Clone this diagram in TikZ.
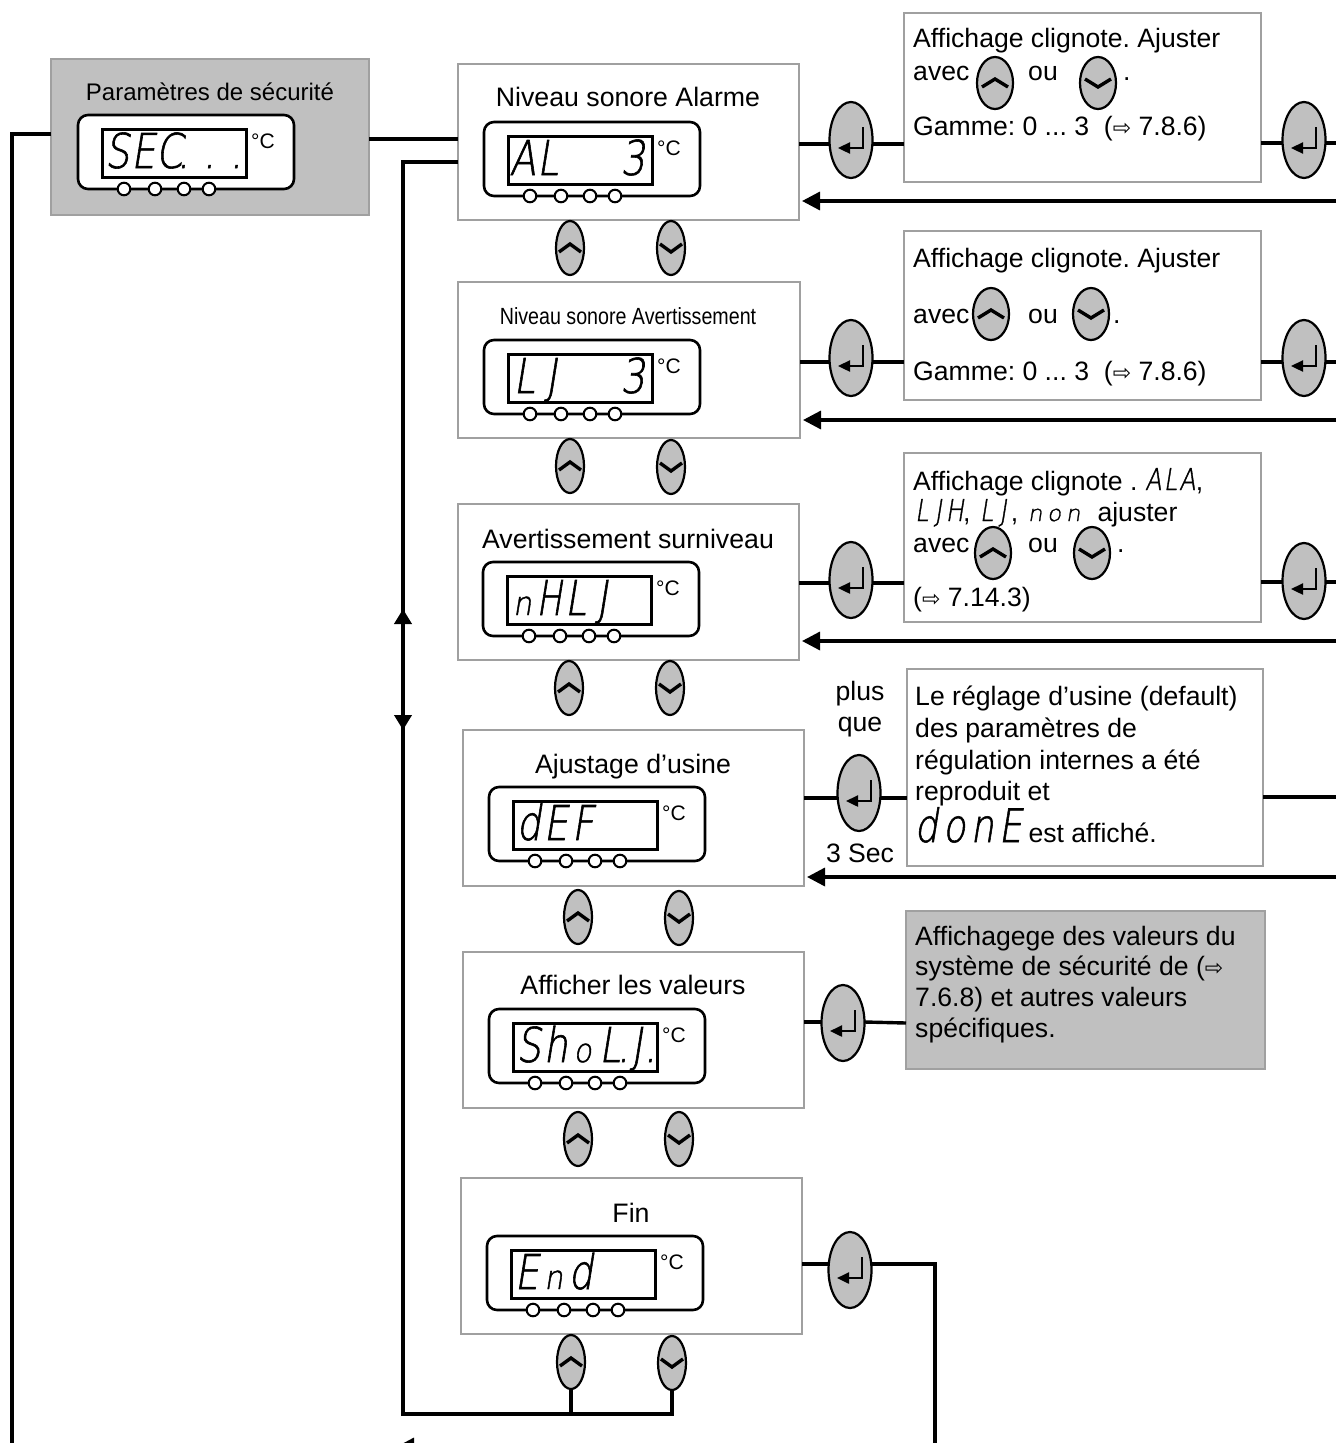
\documentclass[tikz,border=0pt]{standalone}
\usepackage{fontspec}
\usetikzlibrary{shapes.geometric,arrows.meta}
\setmainfont{Liberation Sans}
\newfontfamily\narrowf[FakeStretch=0.84]{Liberation Sans}
\newfontfamily\symf{DejaVu Sans}
\newfontfamily\segf[FakeSlant=0.16,FakeStretch=0.8,FakeBold=1.2]{DejaVu Sans ExtraLight}
\newfontfamily\segn[FakeSlant=0.16,FakeStretch=0.7,FakeBold=1.2]{DejaVu Sans ExtraLight}
\newfontfamily\segl[FakeSlant=0.16,FakeStretch=0.9,FakeBold=1.2]{DejaVu Sans ExtraLight}
\newfontfamily\segw[FakeSlant=0.16,FakeStretch=1.05,FakeBold=1.2]{DejaVu Sans ExtraLight}
\newcommand{\cellc}[2]{\makebox[#1pt][c]{#2}}
\newcommand{\lcd}[1]{{\fontsize{48}{48}\segf #1}}
\newcommand{\lowc}[1]{{\fontsize{33}{33}\segl #1}}
\newcommand{\hrw}{{\symf\fontsize{22}{22}\selectfont ⇨}}
\definecolor{btn}{HTML}{C0C0C0}
\definecolor{edge}{HTML}{A0A0A0}
\tikzset{
  panel/.style={draw=edge,line width=2.2pt,fill=white,minimum width=#1,inner sep=0pt,outer sep=0pt},
  wire/.style={draw=black,line width=3.4pt},
  back/.style={wire,-{Triangle[length=18pt,width=18pt]}},
  enterbtn/.style={ellipse,draw=black,line width=2.2pt,fill=btn,minimum width=43pt,minimum height=76pt,inner sep=0pt,outer sep=0pt},
  arrowbtn/.style={ellipse,draw=black,line width=2.2pt,fill=btn,minimum width=28pt,minimum height=54pt,inner sep=0pt,outer sep=0pt},
  inlinebtn/.style={ellipse,draw=black,line width=2.2pt,fill=btn,minimum width=36pt,minimum height=52pt,inner sep=0pt,outer sep=0pt},
  label/.style={anchor=base,inner sep=0pt,font=\fontsize{26.7}{27}\selectfont},
  para/.style={anchor=base west,inner sep=0pt,font=\fontsize{26.6}{27}\selectfont},
  plain/.style={inner sep=0pt,font=\fontsize{26.6}{27}\selectfont},
  lcdtext/.style={anchor=base west,inner sep=0pt},
}
\newcommand{\disp}[4]{%
  \begin{scope}[shift={(#2,#3)}]
    \draw[black,line width=2.6pt,fill=white,rounded corners=10pt] (0,0) rectangle (216,74);
    \node[draw=black,line width=2.6pt,fill=white,minimum width=144pt,minimum height=48pt,anchor=north west,inner sep=0pt] (#1screen) at (23,13) {};
    \foreach \cx in {46,77,106,131}{\draw[black,line width=2pt,fill=white] (\cx,74) circle (6.3pt);}
    \node[inner sep=0pt,font=\fontsize{21}{21}\selectfont] (#1unit) at (185,26) {°C};
    \node[lcdtext,align=left] (#1lcd) at (26,53) {\lcd{#4}};
  \end{scope}}
\newcommand{\upc}[2][11]{\draw[black,line width=3.4pt] ([shift={(-#1,4)}]#2.center) -- ([shift={(0,-4)}]#2.center) -- ([shift={(#1,4)}]#2.center);}
\newcommand{\dnc}[2][11]{\draw[black,line width=3.4pt] ([shift={(-#1,-4)}]#2.center) -- ([shift={(0,4)}]#2.center) -- ([shift={(#1,-4)}]#2.center);}
\newcommand{\ent}[1]{\draw[black,line width=2.4pt,-{Triangle[length=12pt,width=11pt]}] ([shift={(12,-13)}]#1.center) -- ([shift={(12,8)}]#1.center) -- ([shift={(-13,8)}]#1.center);}
\begin{document}
\frenchspacing
\begin{tikzpicture}[x=1pt,y=-1pt]
\useasboundingbox (0,0) rectangle (1336,1443);
\clip (0,0) rectangle (1336,1443);
\fill[white] (0,0) rectangle (1336,1443);
% panels
\node[panel=318pt,fill=btn,minimum height=156pt,anchor=north west] (sec) at (51,59) {};
\node[panel=341pt,minimum height=156pt,anchor=north west] (al) at (458,64) {};
\node[panel=342pt,minimum height=156pt,anchor=north west] (lj) at (458,282) {};
\node[panel=341pt,minimum height=156pt,anchor=north west] (ov) at (458,504) {};
\node[panel=341pt,minimum height=156pt,anchor=north west] (def) at (463,730) {};
\node[panel=341pt,minimum height=156pt,anchor=north west] (show) at (463,952) {};
\node[panel=341pt,minimum height=156pt,anchor=north west] (fin) at (461,1178) {};
\node[panel=357pt,minimum height=169pt,anchor=north west] (t1) at (904,13) {};
\node[panel=357pt,minimum height=169pt,anchor=north west] (t2) at (904,231) {};
\node[panel=357pt,minimum height=169pt,anchor=north west] (t3) at (904,453) {};
\node[panel=356pt,minimum height=197pt,anchor=north west] (t4) at (907,669) {};
\node[panel=359pt,fill=btn,minimum height=158pt,anchor=north west] (t5) at (906,911) {};
% buttons
\foreach \n/\x/\y in {e1/851/140,r1/1304/140,e2/851/358,r2/1304/358,e3/851/580,r3/1304/581,e4/859/793,e5/843/1023,e6/850/1270}
  \node[enterbtn] (\n) at (\x,\y) {};
\foreach \n/\x/\y in {u1/570/248,u2/570/466,u3/569/688,u4/578/917,u5/578/1139,u6/571/1362}
  {\node[arrowbtn] (\n) at (\x,\y) {}; \upc{\n}}
\foreach \n/\x/\y in {d1/671/248,d2/671/467,d3/670/688,d4/679/918,d5/679/1139,d6/672/1363}
  {\node[arrowbtn] (\n) at (\x,\y) {}; \dnc{\n}}
\foreach \n in {e1,r1,e2,r2,e3,r3,e4,e5,e6}{\ent{\n}}
% free ends
\coordinate (mid) at (403,162);
\coordinate (bus) at (403,1414);
\coordinate (leftc) at (12,134);
\coordinate (leftb) at (12,1443);
\coordinate (rim1) at (1336,143);
\coordinate (rim2) at (1336,362);
\coordinate (rim3) at (1336,582);
\coordinate (rim4) at (1336,797);
\coordinate (ret1) at (1336,201);
\coordinate (ret2) at (1336,420);
\coordinate (ret3) at (1336,641);
\coordinate (ret4) at (1336,877);
\coordinate (finc) at (935,1264);
\coordinate (finb) at (935,1443);
\coordinate (upT) at (403,609);
\coordinate (dnT) at (403,730);
\coordinate (botT) at (396,1447);
\coordinate (botS) at (440,1447);
% wires
\draw[wire] (sec.west |- leftc) -- (leftc) -- (leftb);
\draw[wire] (sec.east |- 0,139) -- (al.west |- 0,139);
\draw[wire] (al.west |- mid) -- (mid) -- (bus) -| (d6.south);
\draw[wire] (u6.south) -- (u6.south |- bus);
\draw[wire] (al.east |- 0,144) -- (e1.west |- 0,144);
\draw[wire] (e1.east |- 0,144) -- (t1.west |- 0,144);
\draw[wire] (t1.east |- 0,143) -- (r1.west |- 0,143);
\draw[wire] (r1.east |- 0,143) -- (rim1);
\draw[wire] (lj.east |- 0,362) -- (e2.west |- 0,362);
\draw[wire] (e2.east |- 0,362) -- (t2.west |- 0,362);
\draw[wire] (t2.east |- 0,362) -- (r2.west |- 0,362);
\draw[wire] (r2.east |- 0,362) -- (rim2);
\draw[wire] (ov.east |- 0,583) -- (e3.west |- 0,583);
\draw[wire] (e3.east |- 0,583) -- (t3.west |- 0,583);
\draw[wire] (t3.east |- 0,582) -- (r3.west |- 0,582);
\draw[wire] (r3.east |- 0,582) -- (rim3);
\draw[wire] (def.east |- 0,798) -- (e4.west |- 0,798);
\draw[wire] (e4.east |- 0,798) -- (t4.west |- 0,798);
\draw[wire] (t4.east |- rim4) -- (rim4);
\draw[wire] (show.east |- 0,1022) -- (e5.west |- 0,1022);
\draw[wire] (e5.east |- 0,1022) -- (t5.west |- 0,1023);
\draw[wire] (fin.east |- finc) -- (e6.west |- finc);
\draw[wire] (e6.east |- finc) -- (finc) -- (finb);
\draw[back] (ret1) -- ([xshift=3]al.east |- ret1);
\draw[back] (ret2) -- ([xshift=3]lj.east |- ret2);
\draw[back] (ret3) -- ([xshift=3]ov.east |- ret3);
\draw[back] (ret4) -- ([xshift=3]def.east |- ret4);
\draw[back] (botS) -- (botT);
\draw[black,line width=4.6pt,{Triangle[length=15pt,width=17pt]}-{Triangle[length=15pt,width=17pt]}] (upT) -- (dnT);
% displays
\disp{sec}{78}{115}{\cellc{26}{S}\cellc{26}{E}\cellc{26}{C}\hspace{1pt}\cellc{0}{.}\hspace{26pt}\cellc{0}{.}\hspace{27pt}\cellc{0}{.}}
\disp{al}{484}{122}{\cellc{25}{A}\cellc{25}{L}\hspace{60pt}\cellc{25}{3}}
\disp{lj}{484}{340}{\cellc{28}{L}\cellc{26}{J}\hspace{56pt}\cellc{25}{3}}
\disp{ov}{483}{562}{\cellc{26.5}{\lowc{n}}\cellc{26.5}{{\segn H}}\cellc{26.5}{L}\cellc{26.5}{J}}
\disp{def}{489}{787}{\cellc{27}{d}\cellc{27}{E}\cellc{27}{F}}
\disp{show}{489}{1009}{\cellc{27}{S}\cellc{27}{h}\cellc{27}{\lowc{o}}\cellc{27}{L}\cellc{0}{.}\cellc{27}{J}\cellc{0}{.}}
\disp{fin}{487}{1236}{\cellc{27}{E}\cellc{27}{\lowc{n}}\cellc{27}{d}}
% titles
\node[label,font=\fontsize{24}{24}\selectfont] (tsec) at (210,100) {Paramètres de sécurité};
\node[label] (tal) at (628,106) {Niveau sonore Alarme};
\node[label,font=\fontsize{23.4}{24}\narrowf] (tlj) at (628,324) {Niveau sonore Avertissement};
\node[label] (tov) at (628,548) {Avertissement surniveau};
\node[label] (tdef) at (633,773) {Ajustage d’usine};
\node[label] (tshow) at (633,994) {Afficher les valeurs};
\node[label] (tfin) at (631,1222) {Fin};
% box 1
\node[para] (a1) at (913,47) {Affichage clignote. Ajuster};
\node[para] (a2) at (913,80) {avec};
\node[inlinebtn] (b1u) at (995,83) {}; \upc[13]{b1u}
\node[para] (a3) at (1028,80) {ou};
\node[inlinebtn] (b1d) at (1098,83) {}; \dnc[13]{b1d}
\node[para] (a4) at (1123,80) {.};
\node[para] (a5) at (913,135) {Gamme: 0 ... 3~ (\hrw{} 7.8.6)};
% box 2
\node[para] (c1) at (913,267) {Affichage clignote. Ajuster};
\node[para] (c2) at (913,323) {avec};
\node[inlinebtn] (b2u) at (991,314) {}; \upc[13]{b2u}
\node[para] (c3) at (1028,323) {ou};
\node[inlinebtn] (b2d) at (1091,314) {}; \dnc[13]{b2d}
\node[para] (c4) at (1113,323) {.};
\node[para] (c5) at (913,380) {Gamme: 0 ... 3~ (\hrw{} 7.8.6)};
% box 3
\node[para] (f1) at (913,490) {Affichage clignote . {\fontsize{30}{27}\segf\cellc{17}{A}\cellc{17}{L}\cellc{17}{A}},};
\node[para] (f2) at (913,521) {{\fontsize{30}{27}\segf\cellc{17}{L}\cellc{16}{J}\cellc{17}{H}}, {\fontsize{30}{27}\segf\cellc{17}{L}\cellc{16}{J}}, {\fontsize{22}{22}\segw\cellc{19}{n}\cellc{19}{o}\cellc{19}{n}}~~ajuster};
\node[para] (f3) at (913,552) {avec};
\node[inlinebtn] (b3u) at (993,553) {}; \upc[13]{b3u}
\node[para] (f4) at (1028,552) {ou};
\node[inlinebtn] (b3d) at (1092,553) {}; \dnc[13]{b3d}
\node[para] (f5) at (1117,552) {.};
\node[para] (f6) at (913,606) {(\hrw{} 7.14.3)};
% box 4
\node[plain] (p1) at (860,694) {plus};
\node[plain] (p2) at (860,727) {que};
\node[plain] (p3) at (860,853) {3 Sec};
\node[para] (g1) at (915,705) {Le réglage d’usine (default)};
\node[para] (g2) at (915,737) {des paramètres de};
\node[para] (g3) at (915,769) {régulation internes a été};
\node[para] (g4) at (915,800) {reproduit et};
\node[para] (g5) at (915,842) {\hspace{-3pt}{\fontsize{46}{46}\segf\cellc{28}{d}\cellc{28}{o}\cellc{28}{n}\cellc{28}{E}}\hspace{-3pt}~est affiché.};
% gray box
\node[para] (h1) at (915,945) {Affichagege des valeurs du};
\node[para] (h2) at (915,975) {système de sécurité de (\hrw};
\node[para] (h3) at (915,1006) {7.6.8) et autres valeurs};
\node[para] (h4) at (915,1037) {spécifiques.};
\end{tikzpicture}
\end{document}
